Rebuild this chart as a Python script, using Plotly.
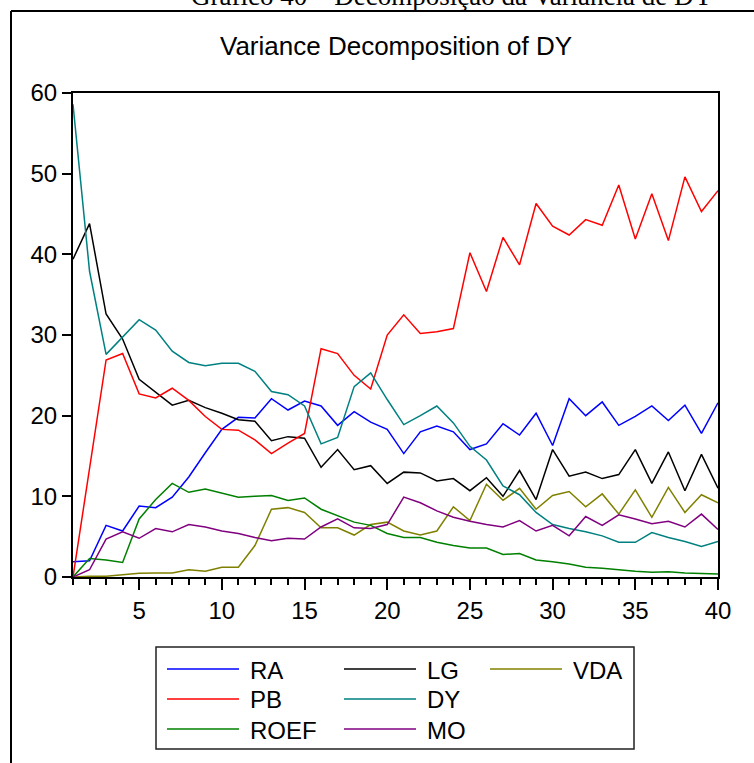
import plotly.graph_objects as go

# Forecast horizon (periods 1..40)
periods = list(range(1, 41))

# Variance decomposition of DY (% of forecast error variance)
ra = [1.9, 2.0, 6.4, 5.7, 8.8, 8.6, 9.9, 12.4, 15.4, 18.3,
      19.8, 19.7, 22.1, 20.7, 21.8, 21.2, 18.8, 20.5, 19.2, 18.3,
      15.3, 18.0, 18.7, 18.0, 15.8, 16.5, 19.0, 17.6, 20.3, 16.3,
      22.1, 20.0, 21.7, 18.8, 19.9, 21.2, 19.4, 21.3, 17.8, 21.6]
lg = [39.4, 43.8, 32.6, 29.5, 24.5, 22.9, 21.3, 21.9, 21.0, 20.3,
      19.5, 19.3, 16.9, 17.4, 17.2, 13.6, 15.8, 13.3, 13.8, 11.6,
      13.0, 12.9, 11.9, 12.2, 10.7, 12.3, 10.0, 13.2, 9.6, 15.8,
      12.5, 13.0, 12.2, 12.7, 15.8, 11.6, 15.5, 10.7, 15.2, 11.0]
vda = [0.0, 0.1, 0.1, 0.3, 0.45, 0.5, 0.5, 0.9, 0.7, 1.2,
       1.2, 3.9, 8.4, 8.6, 8.0, 6.1, 6.1, 5.2, 6.5, 6.8,
       5.7, 5.2, 5.7, 8.7, 7.0, 11.5, 9.5, 11.0, 8.4, 10.1,
       10.6, 8.7, 10.3, 7.8, 10.8, 7.4, 11.1, 8.0, 10.2, 9.2]
pb = [0.0, 13.5, 26.9, 27.7, 22.7, 22.2, 23.4, 21.9, 19.9, 18.3,
      18.2, 17.0, 15.3, 16.6, 17.8, 28.3, 27.7, 25.0, 23.3, 30.0,
      32.5, 30.2, 30.4, 30.8, 40.2, 35.4, 42.1, 38.7, 46.3, 43.5,
      42.4, 44.3, 43.6, 48.6, 41.9, 47.5, 41.7, 49.6, 45.3, 47.9]
dy = [58.6, 37.9, 27.6, 29.7, 31.9, 30.6, 28.0, 26.6, 26.2, 26.5,
      26.5, 25.5, 23.0, 22.6, 21.2, 16.5, 17.3, 23.6, 25.3, 22.0,
      18.9, 20.0, 21.2, 19.1, 16.2, 14.5, 11.3, 10.2, 8.0, 6.5,
      6.0, 5.6, 5.1, 4.3, 4.3, 5.5, 4.9, 4.4, 3.8, 4.4]
roef = [0.0, 2.3, 2.1, 1.8, 7.2, 9.6, 11.6, 10.5, 10.9, 10.4,
        9.9, 10.0, 10.1, 9.5, 9.8, 8.4, 7.6, 6.8, 6.4, 5.4,
        4.9, 4.9, 4.3, 3.9, 3.6, 3.6, 2.8, 2.9, 2.1, 1.9,
        1.6, 1.2, 1.1, 0.9, 0.7, 0.6, 0.65, 0.5, 0.45, 0.37]
mo = [0.0, 0.9, 4.7, 5.6, 4.8, 6.0, 5.6, 6.5, 6.2, 5.7,
      5.4, 4.9, 4.5, 4.8, 4.7, 6.2, 7.2, 6.1, 6.0, 6.5,
      9.9, 9.2, 8.2, 7.4, 6.9, 6.5, 6.2, 7.0, 5.7, 6.4,
      5.1, 7.5, 6.4, 7.7, 7.2, 6.6, 6.9, 6.2, 7.8, 5.9]

names = ["RA", "LG", "VDA", "PB", "DY", "ROEF", "MO"]
values = [ra, lg, vda, pb, dy, roef, mo]
colors = ["#0000FF", "#000000", "#808000", "#FF0000", "#008080", "#008000", "#800080"]

W, H = 754, 763
L, R, T, B = 73, 718, 93, 577   # plot area in pixels


def fx(px):
    return (px - L) / (R - L)


def fy(py):
    return (B - py) / (B - T)


SANS = "Liberation Sans, Arial, Helvetica, sans-serif"
SERIF = "Liberation Serif, Times New Roman, serif"

fig = go.Figure()
for name, vals, col in zip(names, values, colors):
    fig.add_trace(go.Scatter(x=periods, y=vals, mode="lines", name=name,
                             line=dict(color=col, width=1.5), showlegend=False))

shapes = []
annotations = []

# outer frame (top and left rules)
shapes.append(dict(type="line", xref="paper", yref="paper",
                   x0=fx(11), x1=fx(W + 5), y0=fy(11), y1=fy(11),
                   line=dict(color="black", width=2)))
shapes.append(dict(type="line", xref="paper", yref="paper",
                   x0=fx(11), x1=fx(11), y0=fy(11), y1=fy(H + 5),
                   line=dict(color="black", width=2)))

# caption running off the top edge
annotations.append(dict(text="Gráfico 40 – Decomposição da Variância de DY",
                        xref="paper", yref="paper", x=fx(452), y=fy(-4),
                        xanchor="center", yanchor="middle", showarrow=False,
                        font=dict(family=SERIF, size=27, color="black")))

# chart title
annotations.append(dict(text="Variance Decomposition of DY",
                        xref="paper", yref="paper", x=fx(396), y=fy(46),
                        xanchor="center", yanchor="middle", showarrow=False,
                        font=dict(family=SANS, size=26, color="black")))

# legend block
shapes.append(dict(type="rect", xref="paper", yref="paper",
                   x0=fx(156), x1=fx(634), y0=fy(647), y1=fy(749),
                   line=dict(color="#222222", width=1.5), fillcolor="white"))
legend_cols = [(167, 239, 248), (344, 416, 425), (490, 562, 571)]
legend_rows = [669, 699, 729]
legend_layout = [["RA", "PB", "ROEF"], ["LG", "DY", "MO"], ["VDA"]]
for ci, col_names in enumerate(legend_layout):
    lx0, lx1, tx = legend_cols[ci]
    for ri, nm in enumerate(col_names):
        yy = legend_rows[ri]
        c = colors[names.index(nm)]
        shapes.append(dict(type="line", xref="paper", yref="paper",
                           x0=fx(lx0), x1=fx(lx1), y0=fy(yy), y1=fy(yy),
                           line=dict(color=c, width=1.5)))
        annotations.append(dict(text=nm, xref="paper", yref="paper",
                                x=fx(tx), y=fy(yy + 1), xanchor="left",
                                yanchor="middle", showarrow=False,
                                font=dict(family=SANS, size=24, color="black")))

fig.update_layout(
    width=W, height=H,
    margin=dict(l=L, r=W - R, t=T, b=H - B, pad=0),
    paper_bgcolor="white", plot_bgcolor="white",
    showlegend=False,
    shapes=shapes, annotations=annotations,
    font=dict(family=SANS, size=24, color="black"),
)
fig.update_xaxes(
    range=[1, 40], tick0=0, dtick=5, ticks="outside", ticklen=11,
    tickwidth=1.5, tickcolor="black", showgrid=False, zeroline=False,
    showline=True, linecolor="black", linewidth=2, mirror=True,
    tickfont=dict(family=SANS, size=24, color="black"),
    minor=dict(dtick=1, tick0=0, ticks="outside", ticklen=6,
               tickwidth=1.5, tickcolor="black", showgrid=False),
)
fig.update_yaxes(
    range=[0, 60], tickvals=[0, 10, 20, 30, 40, 50, 60], ticks="outside",
    ticklen=9, tickwidth=1.5, tickcolor="black", showgrid=False,
    zeroline=False, showline=True, linecolor="black", linewidth=2,
    mirror=True, tickfont=dict(family=SANS, size=24, color="black"),
)

fig.write_html("out.html")
